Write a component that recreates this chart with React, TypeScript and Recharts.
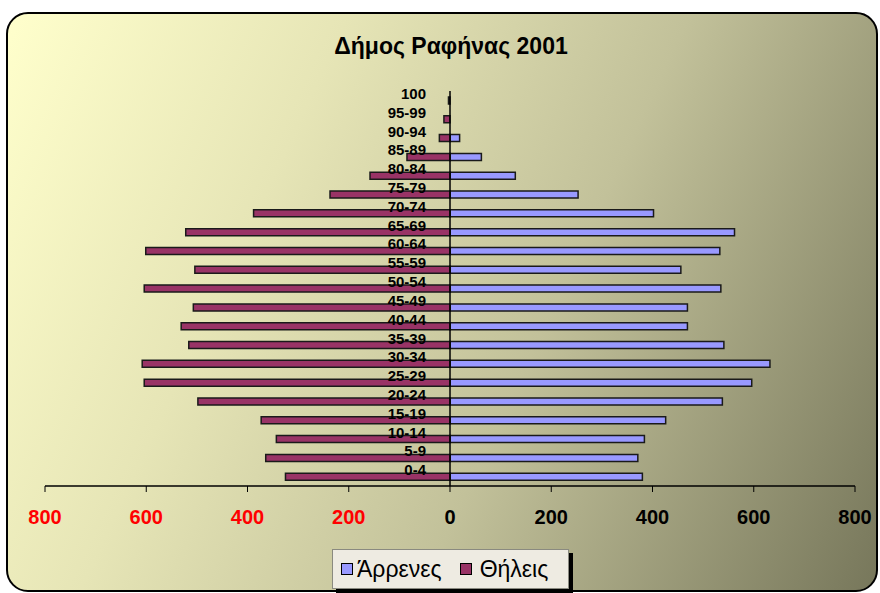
import React from 'react';
import {
  BarChart,
  Bar,
  XAxis,
  YAxis,
  ReferenceLine,
  Legend,
  LabelList
} from 'recharts';

// age groups, bottom to top
const ageGroups = [
  '0-4', '5-9', '10-14', '15-19', '20-24', '25-29', '30-34', '35-39', '40-44', '45-49',
  '50-54', '55-59', '60-64', '65-69', '70-74', '75-79', '80-84', '85-89', '90-94', '95-99', '100'
];
const males = [380, 371, 384, 426, 538, 596, 632, 541, 469, 469, 535, 456, 533, 562, 402, 253, 129, 62, 19, 0, 0];
const females = [325, 364, 343, 373, 498, 604, 608, 516, 531, 507, 604, 504, 601, 522, 388, 237, 158, 85, 21, 12, 3];
const xTicks = [-800, -600, -400, -200, 0, 200, 400, 600, 800];

const FONT = 'Arial, "Liberation Sans", sans-serif';
const MALE = '#9999FF';
const FEMALE = '#993366';

const chartData = ageGroups.map((age, i) => ({
  age,
  male: males[i],
  female: -females[i],
}));

const AxisTick = (props: any) => {
  const { x, y, payload } = props;
  const v = payload.value as number;
  return (
    <text x={x} y={y} dy="0.71em" textAnchor="middle" fontFamily={FONT} fontWeight="bold"
      fontSize={20} fill={v < 0 ? '#FF0000' : '#000'}>
      {Math.abs(v)}
    </text>
  );
};

// label sits just left of the zero line, i.e. at the inner end of the female bar
const AgeLabel = (props: any) => {
  const { x, y, width, height, value } = props;
  const zero = Math.max(x, x + width);
  return (
    <text x={zero - 24} y={y + height / 2 - 7} textAnchor="end" dominantBaseline="central"
      fontFamily={FONT} fontWeight="bold" fontSize={15} fill="#000">
      {value}
    </text>
  );
};

const LegendBox = () => (
  <div style={{
    width: 237, height: 40, boxSizing: 'border-box', background: '#EEEBE2',
    border: '1px solid #8a8a80', boxShadow: '4px 4px 0 #000', display: 'flex',
    alignItems: 'center', fontFamily: FONT, fontSize: 23, color: '#000', paddingLeft: 8
  }}>
    <span style={{ width: 10, height: 10, background: MALE, border: '1px solid #000', marginRight: 4 }} />
    <span style={{ marginRight: 18 }}>Άρρενες</span>
    <span style={{ width: 10, height: 10, background: FEMALE, border: '1px solid #000', marginRight: 8 }} />
    <span>Θήλεις</span>
  </div>
);

export default function App() {
  return (
    <div style={{ position: 'absolute', left: 0, top: 0, width: 880, height: 593, overflow: 'hidden', background: '#fff' }}>
      <div style={{
        position: 'absolute', left: 6, top: 12, width: 872, height: 580, boxSizing: 'border-box',
        border: '2px solid #000', borderRadius: 22,
        background: 'linear-gradient(115deg, #FFFFCC 0%, #E6E5B6 30%, #C2C19A 60%, #77775B 100%)'
      }} />
      <div style={{
        position: 'absolute', left: 0, top: 33, width: 902, textAlign: 'center',
        fontFamily: FONT, fontWeight: 'bold', fontSize: 23, color: '#000'
      }}>
        Δήμος Ραφήνας 2001
      </div>
      <div style={{ position: 'absolute', left: 0, top: 0 }}>
        <BarChart width={880} height={593} data={chartData} layout="vertical" stackOffset="sign"
          margin={{ top: 91, right: 25, bottom: 27, left: 45 }}>
          <XAxis type="number" domain={[-800, 800]} ticks={xTicks} allowDataOverflow
            axisLine={{ stroke: '#000', strokeWidth: 1.5 }} tickLine={{ stroke: '#000' }}
            tickSize={6} tickMargin={18} height={40} tick={AxisTick} interval={0} />
          <YAxis type="category" dataKey="age" reversed hide />
          <ReferenceLine x={0} stroke="#000" strokeWidth={1.5} ifOverflow="extendDomain" />
          <Bar dataKey="male" name="Άρρενες" stackId="a" fill={MALE} stroke="#1a1a1a"
            strokeWidth={1.5} barSize={7} isAnimationActive={false} />
          <Bar dataKey="female" name="Θήλεις" stackId="a" fill={FEMALE} stroke="#1a1a1a"
            strokeWidth={1.5} barSize={7} isAnimationActive={false}>
            <LabelList dataKey="age" content={AgeLabel} />
          </Bar>
          <Legend content={LegendBox} wrapperStyle={{ position: 'absolute', left: 332, top: 549, width: 237 }} />
        </BarChart>
      </div>
    </div>
  );
}
